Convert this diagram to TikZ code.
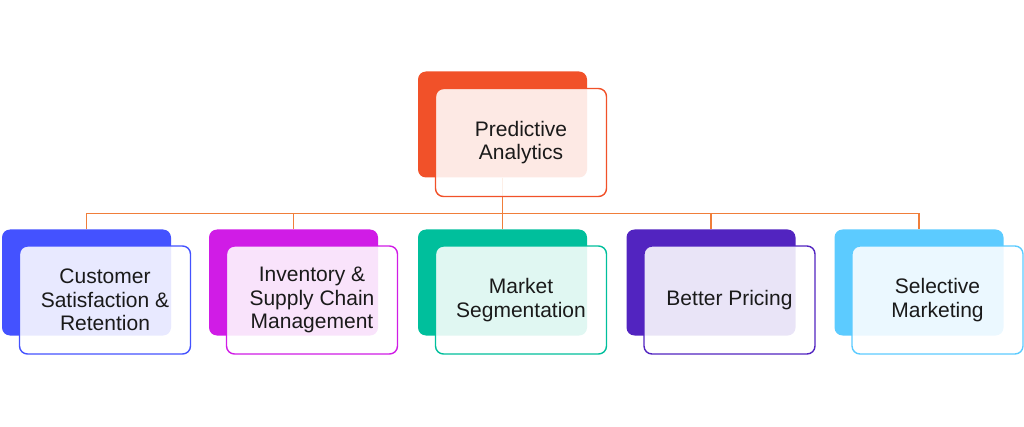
\documentclass[tikz,border=0pt]{standalone}
\usepackage{fontspec}
\setmainfont{Liberation Sans}
\definecolor{predorange}{HTML}{F15129}
\definecolor{linkorange}{HTML}{F07E3A}
\definecolor{custblue}{HTML}{4452FF}
\definecolor{invmagenta}{HTML}{D01CE6}
\definecolor{mktteal}{HTML}{00BF9C}
\definecolor{pricepurple}{HTML}{5224C0}
\definecolor{selsky}{HTML}{5CCBFF}
\definecolor{textgray}{HTML}{1A1A1A}

\begin{document}
\begin{tikzpicture}[x=1pt,y=1pt,
  backcard/.style={rectangle,rounded corners=8pt,minimum width=169pt,minimum height=106pt,inner sep=0pt},
  frontcard/.style={rectangle,rounded corners=8pt,minimum width=171pt,minimum height=108pt,
    line width=1.4pt,fill=white,fill opacity=0.88,text opacity=1,align=center,inner sep=0pt,
    text=textgray,font=\fontsize{21}{23.5}\selectfont},
  link/.style={linkorange,line width=1.3pt}]
\useasboundingbox (0,0) rectangle (1024,426);
% ---------- back cards ----------
\node[backcard,fill=predorange] (topback) at (502.5,301.5) {};
\node[backcard,fill=custblue] (custback) at (86.5,143.5) {};
\node[backcard,fill=invmagenta] (invback) at (293.5,143.5) {};
\node[backcard,fill=mktteal] (mktback) at (502.5,143.5) {};
\node[backcard,fill=pricepurple] (priceback) at (711,143.5) {};
\node[backcard,fill=selsky] (selback) at (919,143.5) {};
% ---------- connectors ----------
\draw[link] (topback.south) -- ++(0,-36) -| (custback.north);
\draw[link] (topback.south) -- ++(0,-36) -| (invback.north);
\draw[link] (topback.south) -- (mktback.north);
\draw[link] (topback.south) -- ++(0,-36) -| (priceback.north);
\draw[link] (topback.south) -- ++(0,-36) -| (selback.north);
% ---------- front cards ----------
\node[frontcard,draw=predorange] (top) at (521,283.5) {Predictive\\Analytics};
\node[frontcard,draw=custblue] (cust) at (105,126) {Customer\\Satisfaction \&\\Retention};
\node[frontcard,draw=invmagenta] (inv) at (312,126) {Inventory \&\\Supply Chain\\Management};
\node[frontcard,draw=mktteal] (mkt) at (521,126) {Market\\Segmentation};
\node[frontcard,draw=pricepurple] (price) at (729.5,126) {Better Pricing};
\node[frontcard,draw=selsky] (sel) at (937.5,126) {Selective\\Marketing};
\end{tikzpicture}
\end{document}
